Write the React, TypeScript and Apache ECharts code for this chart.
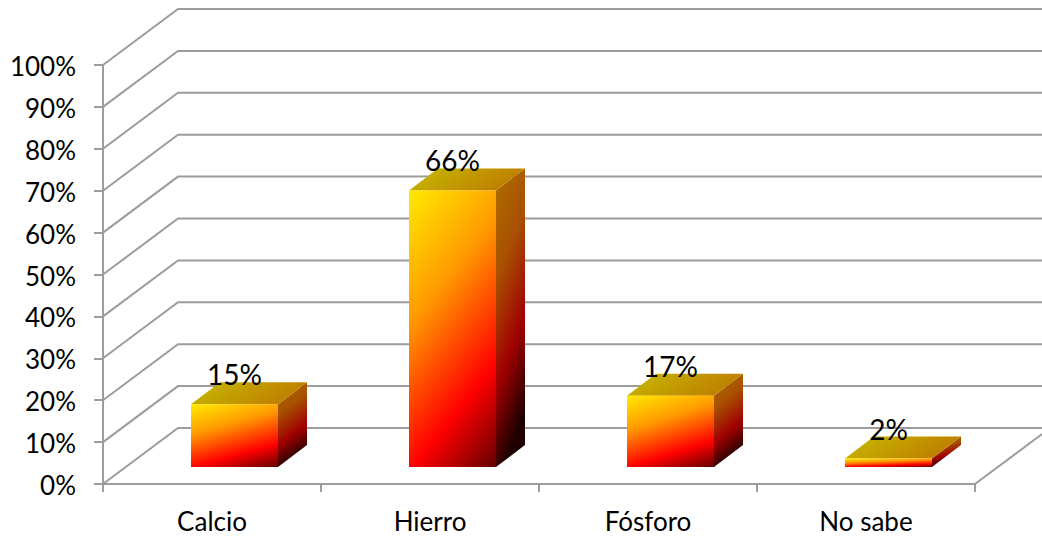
import React, { useEffect, useRef } from "react";
import * as echarts from "echarts";

const categories = ["Calcio", "Hierro", "Fósforo", "No sabe"];
const percentages = [15, 66, 17, 2];
const gridValues = [0, 10, 20, 30, 40, 50, 60, 70, 80, 90, 100];

const FONT = "Lato, Carlito, sans-serif";
const LINE = "#9c9c9c";
const LINE_WIDTH = 2;
const WALL_DX = 75;
const WALL_DY = -56;
const BAR_WIDTH = 87;
const BAR_DX = 29;
const BAR_DY = -22;
const BAR_SHIFT_X = 22.5;
const BAR_SHIFT_Y = -17;

const grad = (x2: number, y2: number, stops: [number, string][]) => ({
  type: "linear",
  x: 0,
  y: 0,
  x2,
  y2,
  colorStops: stops.map(([offset, color]) => ({ offset, color })),
});

const frontFill = grad(0.5, 1.28, [
  [0, "#ffea00"],
  [0.33, "#ff9a00"],
  [0.69, "#ff0000"],
  [1, "#400000"],
]);
const sideFill = grad(0.25, 1, [
  [0, "#b07000"],
  [0.36, "#a85000"],
  [0.7, "#a00000"],
  [1, "#200000"],
]);
const topFill = grad(1, 0.3, [
  [0, "#c6bc00"],
  [1, "#bf7e00"],
]);

function renderWall(params: any, api: any) {
  const sys = params.coordSys;
  const y = api.coord([0, api.value(1)])[1];
  const left = sys.x;
  const children: any[] = [
    {
      type: "polyline",
      shape: {
        points: [
          [left, y],
          [left + WALL_DX, y + WALL_DY],
          [api.getWidth(), y + WALL_DY],
        ],
      },
      style: { fill: "none", stroke: LINE, lineWidth: LINE_WIDTH },
    },
  ];
  if (api.value(1) === 0) {
    // floor edge running back from the far end of the category axis
    const right = sys.x + sys.width;
    const run = api.getWidth() - right;
    children.push({
      type: "line",
      shape: { x1: right, y1: y, x2: right + run, y2: y + (run * WALL_DY) / WALL_DX },
      style: { stroke: LINE, lineWidth: LINE_WIDTH },
    });
  }
  return { type: "group", children };
}

function renderBar(_params: any, api: any) {
  const index = api.value(0);
  const value = api.value(1);
  const [cx, baseY] = api.coord([index, 0]);
  const topY = api.coord([index, value])[1] + BAR_SHIFT_Y;
  const bottom = baseY + BAR_SHIFT_Y;
  const x0 = cx + BAR_SHIFT_X - BAR_WIDTH / 2;
  const x1 = x0 + BAR_WIDTH;
  return {
    type: "group",
    children: [
      {
        type: "polygon",
        shape: {
          points: [
            [x1, topY],
            [x1 + BAR_DX, topY + BAR_DY],
            [x1 + BAR_DX, bottom + BAR_DY],
            [x1, bottom],
          ],
        },
        style: { fill: sideFill },
      },
      {
        type: "polygon",
        shape: {
          points: [
            [x0, topY],
            [x0 + BAR_DX, topY + BAR_DY],
            [x1 + BAR_DX, topY + BAR_DY],
            [x1, topY],
          ],
        },
        style: { fill: topFill },
      },
      {
        type: "rect",
        shape: { x: x0, y: topY, width: BAR_WIDTH, height: bottom - topY },
        style: { fill: frontFill },
      },
      {
        type: "text",
        style: {
          x: x0 + BAR_WIDTH / 2,
          y: topY - 30,
          text: `${value}%`,
          fill: "#000",
          font: `28px ${FONT}`,
          align: "center",
          verticalAlign: "middle",
        },
      },
    ],
  };
}

export default function App() {
  const ref = useRef<HTMLDivElement>(null);

  useEffect(() => {
    const chart = echarts.init(ref.current!, undefined, { renderer: "svg" });
    chart.setOption({
      animation: false,
      backgroundColor: "#ffffff",
      grid: { left: 103, right: 67, top: 65, bottom: 54 },
      xAxis: {
        type: "category",
        data: categories,
        axisLine: { lineStyle: { color: LINE, width: LINE_WIDTH } },
        axisTick: { show: true, length: 8, lineStyle: { color: LINE, width: LINE_WIDTH } },
        axisLabel: {
          color: "#000",
          fontFamily: FONT,
          fontSize: 26,
          margin: 27,
          lineHeight: 20,
        },
        splitLine: { show: false },
      },
      yAxis: {
        type: "value",
        min: 0,
        max: 100,
        interval: 10,
        axisLine: { show: true, lineStyle: { color: LINE, width: LINE_WIDTH } },
        axisTick: { show: true, length: 9, lineStyle: { color: LINE, width: LINE_WIDTH } },
        axisLabel: {
          color: "#000",
          fontFamily: FONT,
          fontSize: 26,
          margin: 27,
          verticalAlign: "top",
          lineHeight: 2,
          formatter: "{value}%",
        },
        splitLine: { show: false },
      },
      series: [
        {
          type: "custom",
          silent: true,
          clip: false,
          z: 1,
          renderItem: renderWall,
          encode: { x: 0, y: 1 },
          data: gridValues.map((v) => [0, v]),
        },
        {
          type: "custom",
          silent: true,
          clip: false,
          z: 3,
          renderItem: renderBar,
          encode: { x: 0, y: 1 },
          data: percentages.map((v, i) => [i, v]),
        },
      ],
    });
    return () => chart.dispose();
  }, []);

  return (
    <div
      ref={ref}
      style={{ position: "fixed", left: 0, top: 0, width: 1042, height: 538 }}
    />
  );
}
